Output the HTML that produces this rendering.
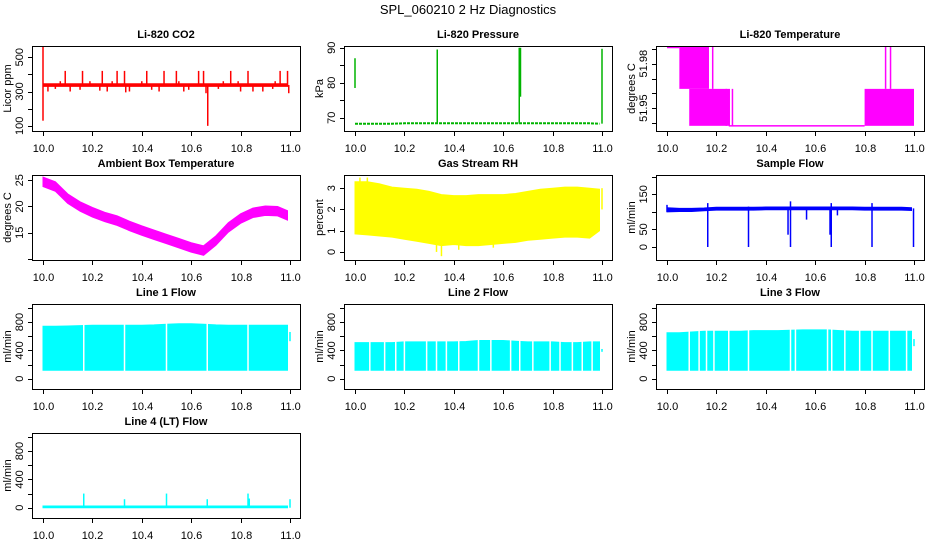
<!DOCTYPE html>
<html><head><meta charset="utf-8"><style>
html,body{margin:0;padding:0;background:#fff;}
svg{display:block;font-family:"Liberation Sans",Arial,sans-serif;}
</style></head><body>
<svg id="c" width="936" height="540" viewBox="0 0 936 540" xmlns="http://www.w3.org/2000/svg">
<rect width="936" height="540" fill="#fff"/>
<text x="468" y="14" text-anchor="middle" font-size="13">SPL_060210  2 Hz Diagnostics</text>
</svg>
<script>
// shared x data
const xTicks = [10.0, 10.2, 10.4, 10.6, 10.8, 11.0];
const xGrid = [10.00,10.05,10.10,10.15,10.20,10.25,10.30,10.35,10.40,10.45,10.50,10.55,10.60,10.65,10.70,10.75,10.80,10.85,10.90,10.95,10.99];

// CO2
const co2Lower = [330,330,330,330,330,330,330,330,330,330,330,330,330,330,330,330,330,330,330,330,330];
const co2Upper = [345,345,345,345,345,345,345,345,345,345,345,345,345,345,345,345,345,345,345,345,345];
const co2Spikes = [[10.0,130,560],[10.667,100,340],[10.09,338,420],[10.16,338,420],[10.24,338,420],[10.30,338,420],[10.33,338,420],[10.42,338,420],[10.49,338,420],[10.54,338,420],[10.63,338,420],[10.65,338,420],[10.76,338,420],[10.83,338,420],[10.96,338,420],[10.99,338,420],[10.07,338,360],[10.19,338,360],[10.28,338,360],[10.40,338,360],[10.55,338,360],[10.73,338,360],[10.79,338,360],[10.94,338,360],[10.02,300,338],[10.05,315,338],[10.11,300,338],[10.15,310,338],[10.23,305,338],[10.26,300,338],[10.335,295,338],[10.35,300,338],[10.44,310,338],[10.47,300,338],[10.57,300,338],[10.59,310,338],[10.66,290,338],[10.71,315,338],[10.80,300,338],[10.85,300,338],[10.89,300,338],[10.93,315,338],[10.995,290,338]];
const co2YTicks = [100,200,300,400,500];
const co2YLabels = [100,300,500];

// Pressure
const presLine = [68.3,68.3,68.3,68.3,68.4,68.4,68.4,68.4,68.4,68.4,68.4,68.4,68.4,68.4,68.4,68.4,68.4,68.4,68.4,68.4,68.3];
const presSpikes = [[10.0,78.5,87],[10.333,68.3,89.5],[10.665,68.3,90],[10.67,76,90],[11.0,68.3,89.7]];
const presYTicks = [70,75,80,85,90];
const presYLabels = [70,80,90];

// Li-820 temperature (segments x0,x1,lo,hi)
const ltBands = [[10.0,10.05,51.9905,51.9915],[10.05,10.17,51.963,51.9915],[10.09,10.255,51.938,51.963],[10.25,10.8,51.938,51.9385],[10.8,11.0,51.938,51.963]];
const ltSpikes = [[10.185,51.963,51.9915],[10.24,51.938,51.963],[10.265,51.938,51.963],[10.885,51.963,51.9915],[10.905,51.963,51.9915]];
const ltYTicks = [51.94,51.95,51.96,51.97,51.98,51.99];
const ltYLabels = [51.95,51.98];

// Ambient box temperature
const ambUpper = [25.6,24.7,22.4,20.9,19.8,18.9,18.2,17.2,16.3,15.5,14.7,13.9,13.1,12.5,14.4,16.9,18.6,19.7,20.1,20.0,19.2];
const ambLower = [23.8,22.9,20.6,19.1,18.0,17.1,16.4,15.4,14.5,13.7,12.9,12.1,11.3,10.7,12.6,15.1,16.8,17.9,18.3,18.2,17.4];
const ambYTicks = [10,15,20,25];
const ambYLabels = [15,20,25];

// Gas stream RH
const rhUpper = [3.3,3.3,3.2,3.05,3.0,2.95,2.85,2.7,2.65,2.65,2.7,2.7,2.7,2.75,2.85,2.95,3.0,3.05,3.05,3.0,2.95];
const rhLower = [0.85,0.8,0.75,0.7,0.6,0.5,0.4,0.3,0.35,0.3,0.3,0.35,0.4,0.45,0.55,0.6,0.65,0.7,0.7,0.65,1.0];
const rhSpikes = [[10.35,-0.2,1.0],[10.33,0.0,1.0],[10.42,0.1,1.0],[10.56,0.2,1.0],[10.02,0.85,3.5],[10.05,0.8,3.5],[11.0,2.0,3.0]];
const rhYTicks = [0,1,2,3];
const rhYLabels = [0,1,2,3];

// Sample flow
const sfUpper = [112,110,110,111,113,113,113,113,114,114,114,114,114,114,114,114,113,113,113,113,112];
const sfLower = [100,101,101,103,105,105,105,105,106,106,106,106,106,106,106,106,105,105,105,105,104];
const sfSpikes = [[10.0,100,120],[10.165,0,125],[10.33,0,115],[10.5,0,130],[10.665,0,125],[10.83,0,125],[10.998,0,110],[10.565,78,110],[10.49,35,110],[10.66,35,110],[10.69,90,110]];
const sfYTicks = [0,50,100,150,200];
const sfYLabels = [0,50,150];

// Line flows
const flowYTicks = [0,200,400,600,800,1000];
const flowYLabels = [0,400,800];
const l1Upper = [740,740,745,750,755,755,755,755,755,760,770,775,775,770,760,755,755,755,755,755,755];
const l1Lower = [120,120,120,120,120,120,120,120,120,120,120,120,120,120,120,120,120,120,120,120,120];
const l1Gaps = [10.165,10.33,10.5,10.665,10.83];
const l1Spikes = [[11.0,530,660]];
const l2Upper = [510,510,510,510,520,520,520,520,520,525,540,540,540,530,520,520,520,510,510,520,520];
const l2Lower = [120,120,120,120,120,120,120,120,120,120,120,120,120,120,120,120,120,120,120,120,120];
const l2Gaps = [10.06,10.12,10.165,10.2,10.29,10.33,10.37,10.42,10.5,10.55,10.63,10.667,10.72,10.79,10.83,10.88,10.92,10.96];
const l2Spikes = [[11.0,380,420]];
const l3Upper = [650,650,660,670,670,670,670,680,680,680,685,690,690,690,680,670,670,670,670,670,670];
const l3Lower = [120,120,120,120,120,120,120,120,120,120,120,120,120,120,120,120,120,120,120,120,120];
const l3Gaps = [10.09,10.13,10.16,10.19,10.25,10.33,10.5,10.52,10.65,10.667,10.72,10.78,10.83,10.9,10.97];
const l3Spikes = [[11.0,460,560]];
const l4Upper = [25,25,25,25,25,25,25,25,25,25,25,25,25,25,25,25,25,25,25,25,25];
const l4Lower = [0,0,0,0,0,0,0,0,0,0,0,0,0,0,0,0,0,0,0,0,0];
const l4Spikes = [[10.165,0,200],[10.33,0,120],[10.5,0,200],[10.665,0,120],[10.83,0,200],[10.835,0,130],[11.0,0,120]];

const svg = document.getElementById('c');
const NS = 'http://www.w3.org/2000/svg';
function mk(tag, attrs, parent){
  const e = document.createElementNS(NS, tag);
  for (const k in attrs) e.setAttribute(k, attrs[k]);
  (parent||svg).appendChild(e);
  return e;
}

function panel(cfg){
  const L = 32 + 312*cfg.col, T = 46 + 129*cfg.row, W = 268, H = 85;
  const g = mk('g', {});
  
  
  const xs = v => L + 11 + (v - 10) * 247;
  const ys = v => T + H - (v - cfg.ylim[0]) / (cfg.ylim[1] - cfg.ylim[0]) * H;
  const clipId = 'clip-' + cfg.name;
  const cp = mk('clipPath', {id: clipId}, g);
  mk('rect', {x: L, y: T, width: W, height: H}, cp);
  const d = mk('g', {'clip-path': 'url(#' + clipId + ')'}, g);
  
  
  const col = cfg.color;
  if (cfg.upper){
    let p = '';
    for (let i = 0; i < xGrid.length; i++) p += (i ? 'L' : 'M') + xs(xGrid[i]).toFixed(1) + ' ' + ys(cfg.upper[i]).toFixed(1);
    for (let i = xGrid.length - 1; i >= 0; i--) p += 'L' + xs(xGrid[i]).toFixed(1) + ' ' + ys(cfg.lower[i]).toFixed(1);
    const band = mk('path', {d: p + 'Z', fill: col, stroke: col, 'stroke-width': 1}, d);
    
    
  }
  if (cfg.line){
    let p = '';
    for (let i = 0; i < xGrid.length; i++) p += (i ? 'L' : 'M') + xs(xGrid[i]).toFixed(1) + ' ' + ys(cfg.line[i]).toFixed(1);
    const ln = mk('path', {d: p, fill: 'none', stroke: col, 'stroke-width': 2, 'stroke-dasharray': '3,1'}, d);
    
    
  }
  if (cfg.bands){
    cfg.bands.forEach(b => {
      const r = mk('rect', {x: xs(b[0]), y: ys(b[3]), width: xs(b[1]) - xs(b[0]), height: Math.max(1.5, ys(b[2]) - ys(b[3])), fill: col}, d);
      
      
    });
  }
  if (cfg.gaps){
    cfg.gaps.forEach(x => {
      const r = mk('line', {x1: xs(x), x2: xs(x), y1: T + H, y2: T, stroke: '#fff', 'stroke-width': 1.5}, d);
      
      
    });
  }
  if (cfg.spikes){
    cfg.spikes.forEach(s => {
      const r = mk('line', {x1: xs(s[0]), x2: xs(s[0]), y1: ys(s[1]), y2: ys(s[2]), stroke: col, 'stroke-width': 1.5}, d);
      
      
    });
  }
  const box = mk('rect', {x: L + 0.5, y: T + 0.5, width: W, height: H, fill: 'none', stroke: '#000', 'stroke-width': 1}, g);
  
  
  xTicks.forEach(v => {
    const x = Math.round(xs(v)) + 0.5;
    const t = mk('line', {x1: x, x2: x, y1: T + H, y2: T + H + 5, stroke: '#000'}, g);
    
    
    const tl = mk('text', {x: x, y: T + H + 21, 'text-anchor': 'middle', 'font-size': 11}, g);
    tl.textContent = v.toFixed(1);
    
    
  });
  cfg.yticks.forEach(v => {
    const y = Math.round(ys(v)) + 0.5;
    const t = mk('line', {x1: L - 4, x2: L, y1: y, y2: y, stroke: '#000'}, g);
    
    
  });
  cfg.ylabels.forEach(v => {
    const y = ys(v);
    const tl = mk('text', {x: 0, y: 0, 'text-anchor': 'middle', 'font-size': 11, transform: 'translate(' + (L - 9) + ',' + y.toFixed(1) + ') rotate(-90)'}, g);
    tl.textContent = String(v);
    
    
  });
  const yt = mk('text', {x: 0, y: 0, 'text-anchor': 'middle', 'font-size': 11, transform: 'translate(' + (L - 21) + ',' + (T + H / 2) + ') rotate(-90)'}, g);
  yt.textContent = cfg.ytitle;
  
  
  const tt = mk('text', {x: L + W / 2, y: T - 8, 'text-anchor': 'middle', 'font-size': 11, 'font-weight': 'bold'}, g);
  tt.textContent = cfg.title;
  
  
}

const flowLim = [-145, 1055];
panel({name:'co2', row:0, col:0, title:'Li-820 CO2', ytitle:'Licor ppm', ylim:[70,565], yticks:co2YTicks, ylabels:co2YLabels, color:'#ff0000', upper:co2Upper, lower:co2Lower, spikes:co2Spikes});
panel({name:'pressure', row:0, col:1, title:'Li-820 Pressure', ytitle:'kPa', ylim:[66.2,90.5], yticks:presYTicks, ylabels:presYLabels, color:'#00b400', line:presLine, spikes:presSpikes});
panel({name:'li820-temp', row:0, col:2, title:'Li-820 Temperature', ytitle:'degrees C', ylim:[51.9345,51.992], yticks:ltYTicks, ylabels:ltYLabels, color:'#ff00ff', bands:ltBands, spikes:ltSpikes});
panel({name:'ambient-temp', row:1, col:0, title:'Ambient Box Temperature', ytitle:'degrees C', ylim:[9.8,26], yticks:ambYTicks, ylabels:ambYLabels, color:'#ff00ff', upper:ambUpper, lower:ambLower});
panel({name:'gas-rh', row:1, col:1, title:'Gas Stream RH', ytitle:'percent', ylim:[-0.38,3.62], yticks:rhYTicks, ylabels:rhYLabels, color:'#ffff00', upper:rhUpper, lower:rhLower, spikes:rhSpikes});
panel({name:'sample-flow', row:1, col:2, title:'Sample Flow', ytitle:'ml/min', ylim:[-37,205], yticks:sfYTicks, ylabels:sfYLabels, color:'#0000ff', upper:sfUpper, lower:sfLower, spikes:sfSpikes});
panel({name:'line1-flow', row:2, col:0, title:'Line 1 Flow', ytitle:'ml/min', ylim:flowLim, yticks:flowYTicks, ylabels:flowYLabels, color:'#00ffff', upper:l1Upper, lower:l1Lower, gaps:l1Gaps, spikes:l1Spikes});
panel({name:'line2-flow', row:2, col:1, title:'Line 2 Flow', ytitle:'ml/min', ylim:flowLim, yticks:flowYTicks, ylabels:flowYLabels, color:'#00ffff', upper:l2Upper, lower:l2Lower, gaps:l2Gaps, spikes:l2Spikes});
panel({name:'line3-flow', row:2, col:2, title:'Line 3 Flow', ytitle:'ml/min', ylim:flowLim, yticks:flowYTicks, ylabels:flowYLabels, color:'#00ffff', upper:l3Upper, lower:l3Lower, gaps:l3Gaps, spikes:l3Spikes});
panel({name:'line4-flow', row:3, col:0, title:'Line 4 (LT) Flow', ytitle:'ml/min', ylim:flowLim, yticks:flowYTicks, ylabels:flowYLabels, color:'#00ffff', upper:l4Upper, lower:l4Lower, spikes:l4Spikes});
</script>
</body></html>
